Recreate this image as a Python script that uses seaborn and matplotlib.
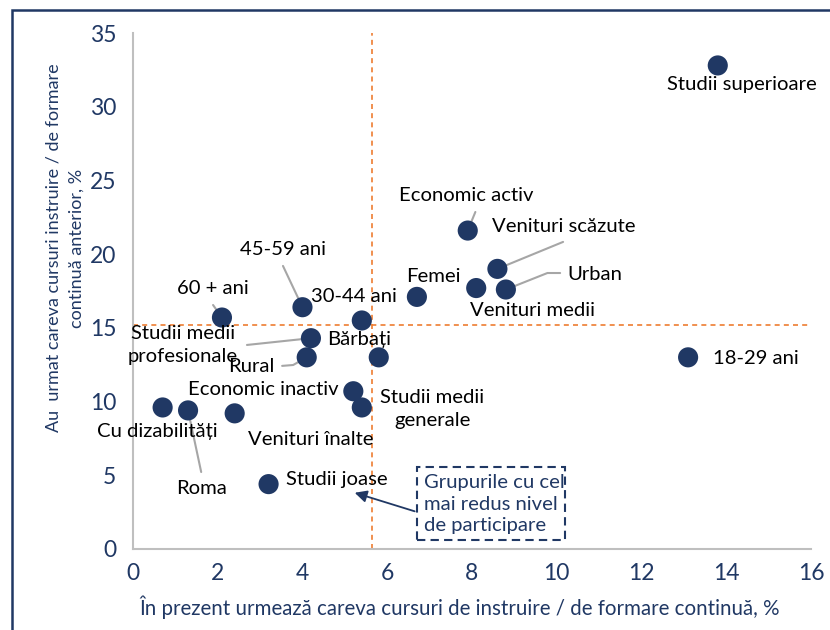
import seaborn as sns
import matplotlib.pyplot as plt
import pandas as pd
from matplotlib.patches import Rectangle

# grupuri si valori (%)
groups = ['Studii superioare', '18-29 ani', 'Economic activ', 'Venituri scăzute',
          'Venituri medii', 'Urban', 'Femei', '45-59 ani', '60 + ani', '30-44 ani',
          'Studii medii\nprofesionale', 'Rural', 'Bărbați', 'Economic inactiv',
          'Studii medii\ngenerale', 'Cu dizabilități', 'Roma', 'Venituri înalte',
          'Studii joase']
current = [13.8, 13.1, 7.9, 8.6, 8.1, 8.8, 6.7, 4.0, 2.1, 5.4,
           4.2, 4.1, 5.8, 5.2, 5.4, 0.7, 1.3, 2.4, 3.2]
previous = [32.8, 13.0, 21.6, 19.0, 17.7, 17.6, 17.1, 16.4, 15.7, 15.5,
            14.3, 13.0, 13.0, 10.7, 9.6, 9.6, 9.4, 9.2, 4.4]
avg_x = 5.64
avg_y = 15.2

df = pd.DataFrame({'grup': groups, 'x': current, 'y': previous})

navy = '#203864'
grey = '#A6A6A6'
orange = '#ED7D31'

# pozitia etichetelor (text x, text y, ha) si puncte de pornire pentru liniile de legatura
label_pos = {
    'Studii superioare': (14.38, 31.5, 'center'),
    '18-29 ani': (13.68, 12.9, 'left'),
    'Economic activ': (7.86, 24.0, 'center'),
    'Venituri scăzute': (10.16, 21.85, 'center'),
    'Venituri medii': (9.42, 16.2, 'center'),
    'Urban': (10.89, 18.6, 'center'),
    'Femei': (7.08, 18.45, 'center'),
    '45-59 ani': (3.54, 20.3, 'center'),
    '60 + ani': (1.89, 17.65, 'center'),
    '30-44 ani': (5.22, 17.15, 'center'),
    'Studii medii\nprofesionale': (1.18, 13.85, 'center'),
    'Rural': (2.79, 12.35, 'center'),
    'Bărbați': (5.34, 14.2, 'center'),
    'Economic inactiv': (3.07, 10.85, 'center'),
    'Studii medii\ngenerale': (7.06, 9.5, 'center'),
    'Cu dizabilități': (0.57, 7.95, 'center'),
    'Roma': (1.61, 4.07, 'center'),
    'Venituri înalte': (4.2, 7.4, 'center'),
    'Studii joase': (4.82, 4.68, 'center'),
}
leaders = {
    'Economic activ': [(8.08, 22.86)],
    'Venituri scăzute': [(10.15, 20.83)],
    'Urban': [(10.08, 18.72), (9.78, 18.72)],
    '45-59 ani': [(3.54, 19.2)],
    '60 + ani': [(1.89, 16.55)],
    'Studii medii\nprofesionale': [(2.69, 13.84)],
    'Rural': [(3.52, 12.42), (3.78, 12.48)],
    'Roma': [(1.61, 5.22)],
}

sns.set_style('white')
plt.rcParams['font.family'] = ['Lato', 'DejaVu Sans']

fig = plt.figure(figsize=(8.3, 6.3), dpi=100)
ax = fig.add_axes([0.1602, 0.1286, 0.8169, 0.819])

ax.axvline(avg_x, color=orange, lw=1.2, ls=(0, (3, 2.5)), zorder=1)
ax.axhline(avg_y, color=orange, lw=1.2, ls=(0, (3, 2.5)), zorder=1)

for g, px, py in zip(groups, current, previous):
    if g in leaders:
        pts = leaders[g] + [(px, py)]
        ax.plot([p[0] for p in pts], [p[1] for p in pts], color=grey, lw=1.5, zorder=2)

sns.scatterplot(data=df, x='x', y='y', s=210, color=navy, edgecolor='none',
                zorder=3, ax=ax, legend=False)

for g in groups:
    tx, ty, ha = label_pos[g]
    ax.text(tx, ty, g, ha=ha, va='center', fontsize=14.6, color='black',
            linespacing=1.45, zorder=4)

# caseta pentru grupurile cu participare redusa
ax.add_patch(Rectangle((6.71, 0.61), 10.2 - 6.71, 5.56 - 0.61, fill=False,
                       ec=navy, lw=1.5, ls=(0, (4, 2.5)), zorder=4))
ax.text(6.86, 3.05, 'Grupurile cu cel\nmai redus nivel\nde participare', ha='left',
        va='center', fontsize=14.6, color=navy, linespacing=1.35, zorder=4)
ax.annotate('', xy=(5.17, 3.87), xytext=(6.71, 2.5),
            arrowprops=dict(arrowstyle='-|>', color=navy, lw=1.3,
                            mutation_scale=18), zorder=4)

ax.set_xlim(0, 16)
ax.set_ylim(0, 35)
ax.set_xticks(range(0, 17, 2))
ax.set_yticks(range(0, 36, 5))
ax.tick_params(axis='both', length=0, labelsize=16.5, labelcolor=navy)
ax.tick_params(axis='x', pad=10)
ax.tick_params(axis='y', pad=12)
for side in ['top', 'right']:
    ax.spines[side].set_visible(False)
for side in ['left', 'bottom']:
    ax.spines[side].set_color('#BFBFBF')
    ax.spines[side].set_linewidth(1.5)
ax.set_xlabel('')
ax.set_ylabel('')

fig.text(460 / 830, 1 - 607 / 630,
         'În prezent urmează careva cursuri de instruire / de formare continuă, %',
         ha='center', va='center', fontsize=14.8, color=navy)
fig.text(65 / 830, 1 - 248 / 630,
         'Au  urmat careva cursuri instruire / de formare\ncontinuă anterior, %',
         ha='center', va='center', rotation=90, fontsize=13, color=navy,
         linespacing=1.55)

fig.add_artist(Rectangle((12 / 830, -0.2), 1.2, 1.2 - 10 / 630, fill=False,
                         ec=navy, lw=1.8, transform=fig.transFigure))

fig.savefig('out.png', dpi=100)
